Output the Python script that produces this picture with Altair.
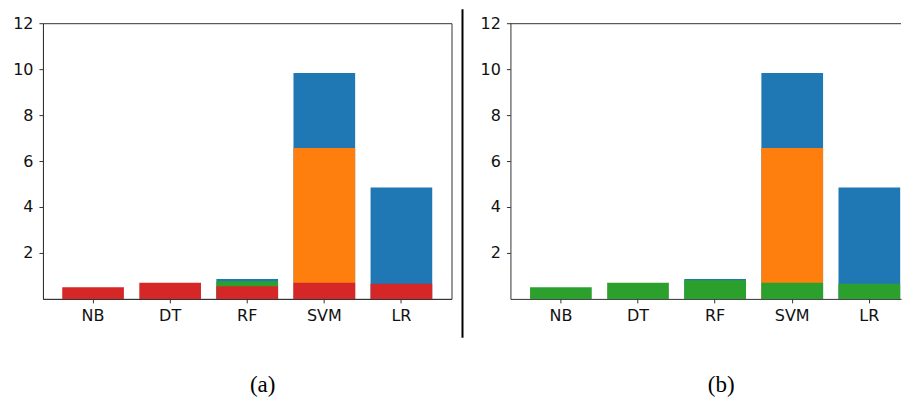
import altair as alt
import pandas as pd

categories = ["NB", "DT", "RF", "SVM", "LR"]
series_names = ["S1", "S2", "S3", "S4"]
series_colors = ["#1f77b4", "#ff7f0e", "#2ca02c", "#d62728"]

# Panel (a)
a_s1 = [None, None, 0.87, 9.83, 4.85]
a_s2 = [None, None, None, 6.57, None]
a_s3 = [None, None, 0.77, None, None]
a_s4 = [0.51, 0.70, 0.55, 0.70, 0.66]

# Panel (b)
b_s1 = [None, None, 0.87, 9.83, 4.85]
b_s2 = [None, None, None, 6.57, None]
b_s3 = [0.51, 0.70, 0.81, 0.70, 0.66]

y_ticks = [2, 4, 6, 8, 10, 12]


def long_df(cols):
    rows = []
    for k, vals in enumerate(cols):
        for c, v in zip(categories, vals):
            if v is not None:
                rows.append({"cat": c, "series": series_names[k], "ord": k, "value": v})
    return pd.DataFrame(rows)


AX = "#333333"
FONT = "DejaVu Sans"
H = 276


def bars(df, outer, align, caption, cap_x):
    xs = alt.Scale(domain=categories, paddingInner=0.2, paddingOuter=outer, align=align)
    base = alt.Chart(df).mark_bar().encode(
        x=alt.X("cat:N", scale=xs, sort=categories,
                axis=alt.Axis(title=None, labelAngle=0, labelFont=FONT, labelFontSize=16,
                              labelColor="#111", tickColor=AX, tickSize=4, labelPadding=5,
                              domainColor=AX, domainWidth=1)),
        y=alt.Y("value:Q", stack=None, scale=alt.Scale(domain=[0, 12], nice=False, zero=True),
                axis=alt.Axis(title=None, values=y_ticks, grid=False, labelFont=FONT,
                              labelFontSize=16, labelColor="#111", tickColor=AX, tickSize=4,
                              labelPadding=6, domainColor=AX, domainWidth=1)),
        color=alt.Color("series:N", scale=alt.Scale(domain=series_names, range=series_colors),
                        legend=None),
        order=alt.Order("ord:Q"),
    )
    cap = alt.Chart(alt.Data(values=[{"t": caption}])).mark_text(
        font="Liberation Serif", fontSize=23, color="black", baseline="middle", align="center"
    ).encode(text="t:N", x=alt.value(cap_x), y=alt.value(362))
    return base, cap


a_df = long_df([a_s1, a_s2, a_s3, a_s4])
b_df = long_df([b_s1, b_s2, b_s3])

a_bars, a_cap = bars(a_df, 0.25, 0.5, "(a)", 220)
panel_a = alt.layer(a_bars, a_cap).properties(width=409, height=H)

WB = 391
b_bars, b_cap = bars(b_df, 0.1325, 0.96, "(b)", 211)
divider = alt.Chart(alt.Data(values=[{"k": 1}])).mark_rule(color="black", strokeWidth=2).encode(
    x=alt.value(-48), y=alt.value(-14), y2=alt.value(315)
)
top_line = alt.Chart(alt.Data(values=[{"k": 1}])).mark_rule(color=AX, strokeWidth=1).encode(
    x=alt.value(0), x2=alt.value(WB), y=alt.value(0.5)
)
panel_b = alt.layer(b_bars, b_cap, divider, top_line).properties(
    width=WB, height=H, view=alt.ViewConfig(stroke=None)
)

chart = alt.hconcat(panel_a, panel_b, spacing=9).properties(
    padding={"left": 4, "top": 0, "right": 0, "bottom": 0}
).configure_view(stroke=AX, strokeWidth=1).configure_axis(domain=True)

chart.save("out.html", embed_options={"renderer": "svg", "actions": False})
